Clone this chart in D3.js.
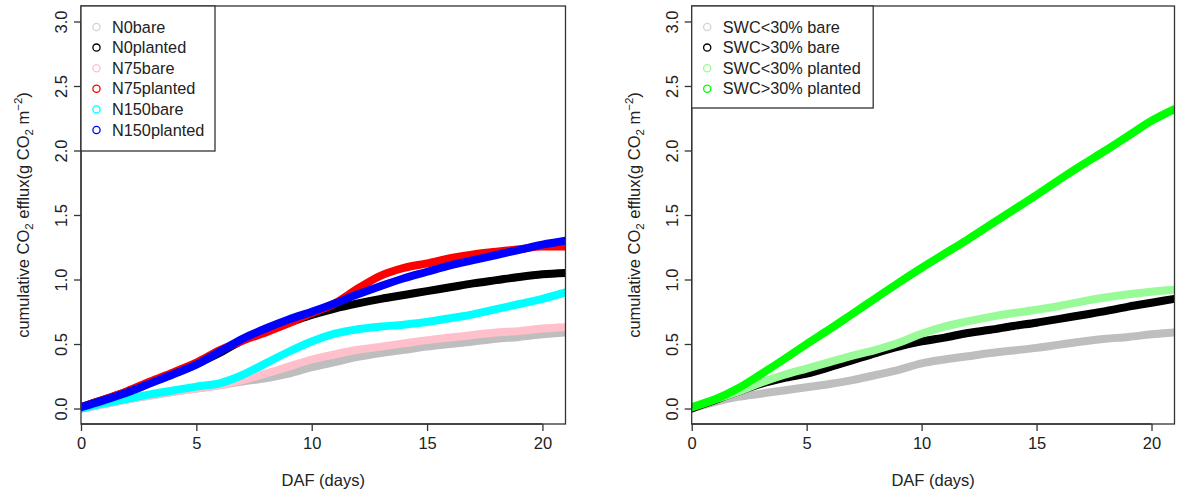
<!DOCTYPE html>
<html><head><meta charset="utf-8">
<script src="https://cdn.jsdelivr.net/npm/d3@7/dist/d3.min.js"></script>
<style>body{margin:0;background:#fff}svg{display:block;font-family:"Liberation Sans",Arial,sans-serif}</style>
</head><body>
<svg id="chart" width="1177" height="493"></svg>
<script>
const days = [0,1,2,3,4,5,6,7,8,9,10,11,12,13,14,15,16,17,18,19,20,21];
const xTicks = [0,5,10,15,20];
const yTicks = [0,0.5,1,1.5,2,2.5,3];
const yTickLabels = ["0.0","0.5","1.0","1.5","2.0","2.5","3.0"];
const xTitle = "DAF (days)";

// Left panel series
const leftNames = ["N0bare","N0planted","N75bare","N75planted","N150bare","N150planted"];
const leftColors = ["#bebebe","#000000","#ffc0cb","#ff0000","#00ffff","#0000ff"];
const leftLegendColors = ["#d3d3d3","#000000","#ffc0cb","#ff0000","#00ffff","#0000ff"];
const N0bare      = [0,0.035,0.07,0.10,0.13,0.155,0.18,0.21,0.235,0.27,0.32,0.36,0.40,0.43,0.455,0.48,0.50,0.52,0.54,0.555,0.575,0.59];
const N0planted   = [0.01,0.07,0.13,0.20,0.27,0.345,0.43,0.53,0.61,0.665,0.725,0.775,0.815,0.85,0.88,0.91,0.94,0.97,0.995,1.02,1.04,1.05];
const N75bare     = [0,0.035,0.07,0.10,0.13,0.155,0.18,0.22,0.27,0.325,0.38,0.42,0.455,0.48,0.505,0.53,0.55,0.57,0.59,0.60,0.62,0.63];
const N75planted  = [0.01,0.07,0.135,0.21,0.28,0.355,0.45,0.525,0.59,0.66,0.74,0.815,0.93,1.03,1.09,1.125,1.165,1.195,1.215,1.235,1.255,1.255];
const N150bare    = [0,0.04,0.075,0.11,0.14,0.17,0.195,0.26,0.35,0.44,0.52,0.58,0.615,0.635,0.65,0.67,0.70,0.73,0.77,0.81,0.85,0.90];
const N150planted = [0.01,0.065,0.125,0.195,0.265,0.34,0.44,0.54,0.62,0.69,0.75,0.815,0.885,0.95,1.01,1.06,1.11,1.15,1.19,1.23,1.27,1.30];
const leftSeries = [N0bare,N0planted,N75bare,N75planted,N150bare,N150planted];

// Right panel series
const rightNames = ["SWC<30% bare","SWC>30% bare","SWC<30% planted","SWC>30% planted"];
const rightColors = ["#bebebe","#000000","#98fb98","#00ff00"];
const rightLegendColors = ["#d3d3d3","#000000","#98fb98","#00ff00"];
const swcLowBare     = [0,0.05,0.09,0.115,0.14,0.165,0.19,0.22,0.26,0.30,0.35,0.38,0.405,0.43,0.45,0.47,0.495,0.52,0.54,0.555,0.575,0.59];
const swcHighBare    = [0,0.065,0.13,0.19,0.235,0.27,0.32,0.375,0.43,0.48,0.52,0.55,0.585,0.61,0.64,0.665,0.695,0.725,0.755,0.79,0.82,0.85];
const swcLowPlanted  = [0.01,0.07,0.13,0.20,0.26,0.31,0.36,0.41,0.455,0.51,0.58,0.635,0.675,0.71,0.74,0.765,0.795,0.83,0.86,0.885,0.905,0.92];
const swcHighPlanted = [0.01,0.07,0.155,0.265,0.38,0.50,0.615,0.735,0.855,0.975,1.09,1.2,1.31,1.425,1.54,1.655,1.775,1.89,2.0,2.115,2.23,2.32];
const rightSeries = [swcLowBare,swcHighBare,swcLowPlanted,swcHighPlanted];

const svg = d3.select("#chart");

function panel(id, x0, x1, series, colors, names, legendColors, legendW, legendH) {
  const top = 6, bottom = 424;
  const x = d3.scaleLinear().domain([0,21]).range([x0,x1]);
  const y = d3.scaleLinear().domain([-0.12,3.12]).range([bottom,top]);
  const g = svg.append("g");
  g.append("clipPath").attr("id","clip"+id).append("rect")
    .attr("x",x0).attr("y",top).attr("width",x1-x0).attr("height",bottom-top);
  const line = d3.line().x((d,i)=>x(days[i])).y(d=>y(d)).curve(d3.curveMonotoneX);
  const lg = g.append("g").attr("clip-path","url(#clip"+id+")");
  series.forEach((s,i)=>{
    lg.append("path").attr("d",line(s)).attr("fill","none")
      .attr("stroke",colors[i]).attr("stroke-width",8).attr("stroke-linejoin","round").attr("stroke-linecap","round");
  });
  // box
  g.append("rect").attr("x",x0).attr("y",top).attr("width",x1-x0).attr("height",bottom-top)
    .attr("fill","none").attr("stroke","#333").attr("stroke-width",1.3);
  // x axis
  const xa = g.append("g").attr("transform",`translate(0,${bottom})`)
    .call(d3.axisBottom(x).tickValues(xTicks).tickSize(7).tickPadding(6).tickFormat(d3.format("d")));
  xa.select(".domain").attr("stroke","#333").attr("stroke-width",1.3).attr("d",`M${x(0)},0H${x(20)}`);
  xa.selectAll(".tick line").attr("stroke","#333").attr("stroke-width",1.3);
  xa.selectAll(".tick text").attr("font-size",16.5).attr("fill","#222").attr("font-family","Liberation Sans, Arial, sans-serif");
  // y axis
  const ya = g.append("g").attr("transform",`translate(${x0},0)`)
    .call(d3.axisLeft(y).tickValues(yTicks).tickSize(7).tickFormat((d,i)=>yTickLabels[i]));
  ya.select(".domain").attr("stroke","#333").attr("stroke-width",1.3).attr("d",`M0,${y(0)}V${y(3)}`);
  ya.selectAll(".tick line").attr("stroke","#333").attr("stroke-width",1.3);
  ya.selectAll(".tick text").attr("font-size",16.5).attr("fill","#222")
    .attr("font-family","Liberation Sans, Arial, sans-serif")
    .attr("text-anchor","middle").attr("x",null).attr("dy",null)
    .attr("transform","translate(-14,0) rotate(-90)");
  // x title
  g.append("text").attr("x",(x0+x1)/2).attr("y",486).attr("text-anchor","middle")
    .attr("font-size",16.5).attr("fill","#222").text(xTitle);
  // y title
  const yt = g.append("text").attr("transform",`translate(${x0-52},${(top+bottom)/2}) rotate(-90)`)
    .attr("text-anchor","middle").attr("font-size",16.5).attr("fill","#222");
  yt.append("tspan").text("cumulative CO");
  yt.append("tspan").attr("font-size",11.5).attr("dy",4).text("2");
  yt.append("tspan").attr("dy",-4).text(" efflux(g CO");
  yt.append("tspan").attr("font-size",11.5).attr("dy",4).text("2");
  yt.append("tspan").attr("dy",-4).text(" m");
  yt.append("tspan").attr("font-size",11.5).attr("dy",-7).text("−2");
  yt.append("tspan").attr("dy",7).text(")");
  // legend
  const leg = g.append("g");
  leg.append("rect").attr("x",x0).attr("y",top).attr("width",legendW).attr("height",legendH)
    .attr("fill","#fff").attr("stroke","#333").attr("stroke-width",1.3);
  names.forEach((n,i)=>{
    const cy = top + 21 + i*20.6;
    leg.append("circle").attr("cx",x0+15.5).attr("cy",cy).attr("r",3.6)
      .attr("fill","none").attr("stroke",legendColors[i]).attr("stroke-width",1.3);
    leg.append("text").attr("x",x0+31).attr("y",cy+5.5).attr("font-size",16.3).attr("fill","#222").text(n);
  });
}

panel("L", 81, 565.5, leftSeries, leftColors, leftNames, leftLegendColors, 134, 145);
panel("R", 691.7, 1174.5, rightSeries, rightColors, rightNames, rightLegendColors, 181.5, 102);
</script>
</body></html>
